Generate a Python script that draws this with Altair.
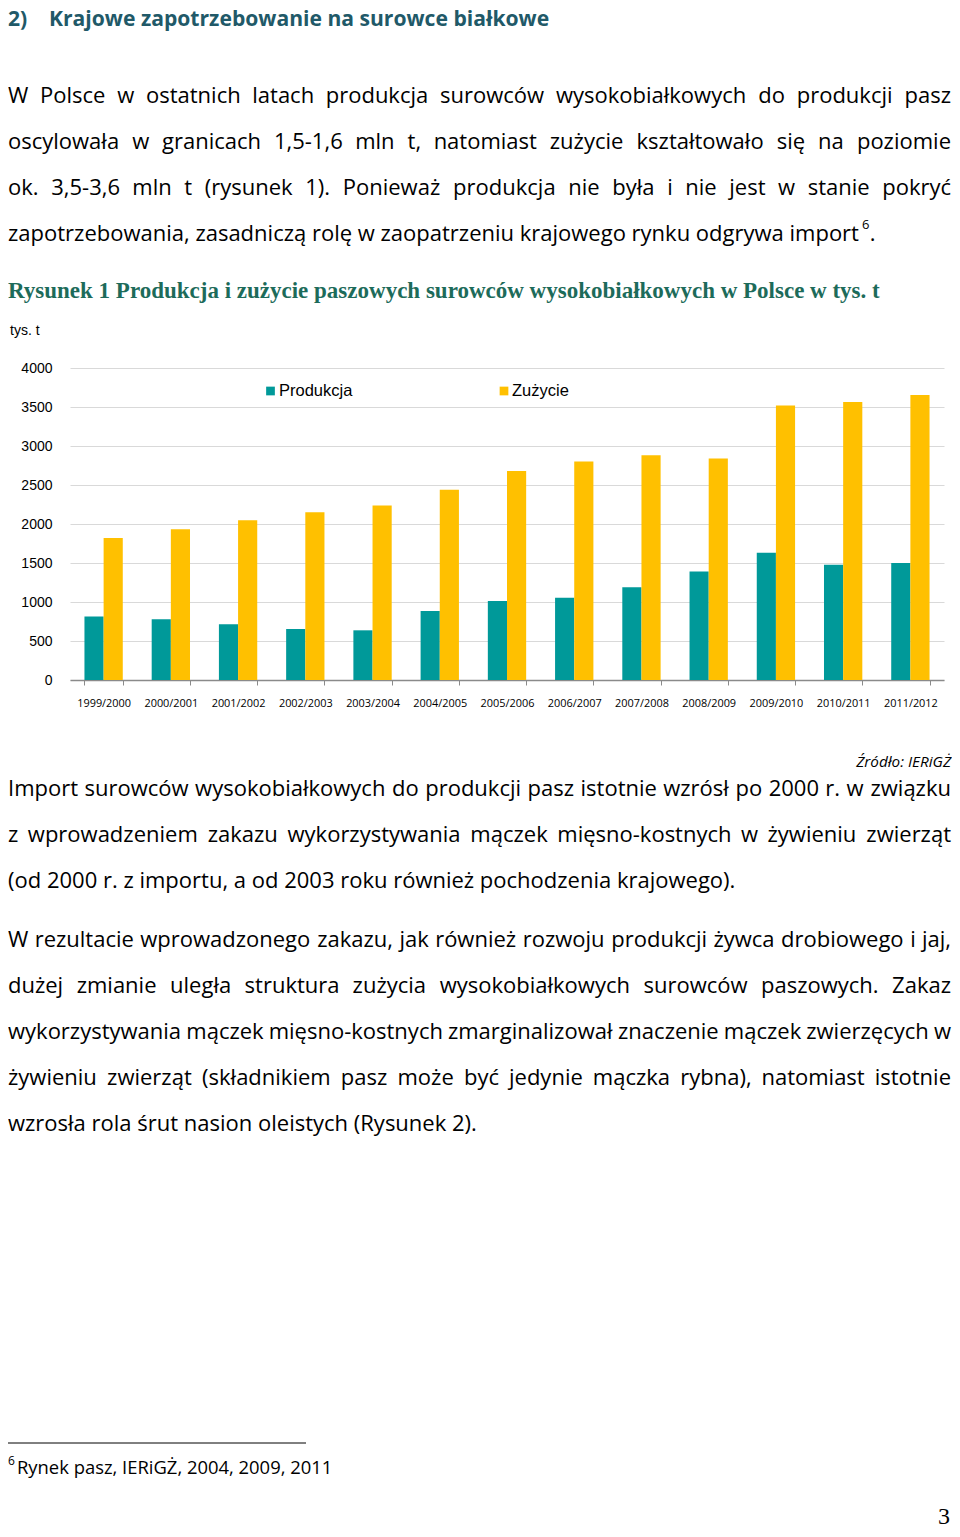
import altair as alt
import pandas as pd

# ---------------- data ----------------
SEASONS = ["1999/2000", "2000/2001", "2001/2002", "2002/2003", "2003/2004",
           "2004/2005", "2005/2006", "2006/2007", "2007/2008", "2008/2009",
           "2009/2010", "2010/2011", "2011/2012"]
PRODUKCJA = [813, 779, 714, 654, 637, 885, 1014, 1056, 1189, 1390, 1630, 1476, 1501]
ZUZYCIE = [1822, 1933, 2049, 2152, 2237, 2438, 2678, 2802, 2883, 2840, 3520, 3563, 3653]
SERIES = ["Produkcja", "Zużycie"]
SERIES_COLORS = ["#009999", "#FFC000"]
Y_TICKS = [0, 500, 1000, 1500, 2000, 2500, 3000, 3500, 4000]
Y_UNIT = "tys. t"

HEADING_NUM = "2)"
HEADING = "Krajowe zapotrzebowanie na surowce białkowe"
PARA1 = [
    "W Polsce w ostatnich latach produkcja surowców wysokobiałkowych do produkcji pasz",
    "oscylowała w granicach 1,5-1,6 mln t, natomiast zużycie kształtowało się na poziomie",
    "ok. 3,5-3,6 mln t (rysunek 1). Ponieważ produkcja nie była i nie jest w stanie pokryć",
    "zapotrzebowania, zasadniczą rolę w zaopatrzeniu krajowego rynku odgrywa import",
]
PARA1_SUP = "6"
PARA1_END = "."
CAPTION = "Rysunek 1 Produkcja i zużycie paszowych surowców wysokobiałkowych w Polsce w tys. t"
SOURCE = "Źródło: IERiGŻ"
PARA2 = [
    "Import surowców wysokobiałkowych do produkcji pasz istotnie wzrósł po 2000 r. w związku",
    "z wprowadzeniem zakazu wykorzystywania mączek mięsno-kostnych w żywieniu zwierząt",
    "(od 2000 r. z importu, a od 2003 roku również pochodzenia krajowego).",
]
PARA3 = [
    "W rezultacie wprowadzonego zakazu, jak również rozwoju produkcji żywca drobiowego i jaj,",
    "dużej zmianie uległa struktura zużycia wysokobiałkowych surowców paszowych. Zakaz",
    "wykorzystywania mączek mięsno-kostnych zmarginalizował znaczenie mączek zwierzęcych w",
    "żywieniu zwierząt (składnikiem pasz może być jedynie mączka rybna), natomiast istotnie",
    "wzrosła rola śrut nasion oleistych (Rysunek 2).",
]
FOOTNOTE_MARK = "6"
FOOTNOTE = "Rynek pasz, IERiGŻ, 2004, 2009, 2011"
PAGE_NUMBER = "3"

# ---------------- layout helpers ----------------
PLOT_X0, PLOT_Y0, PLOT_W, PLOT_H = 70, 368, 874, 312
PAGE_M = 8
SVG_W, SVG_H = 944, 1521
TEXT_L, TEXT_R = 8, 951
BODY_FONT = "Open Sans"
BODY_SIZE = 22
LINE_GAP = 46


def rx(x):
    return x - PLOT_X0


def ry(y):
    return y - PLOT_Y0


# approximate Open Sans advance widths (em)
_W = {' ': 0.26, 'a': 0.556, 'b': 0.613, 'c': 0.476, 'd': 0.613, 'e': 0.561, 'f': 0.339,
      'g': 0.548, 'h': 0.614, 'i': 0.253, 'j': 0.253, 'k': 0.525, 'l': 0.253, 'm': 0.93,
      'n': 0.614, 'o': 0.604, 'p': 0.613, 'q': 0.613, 'r': 0.408, 's': 0.477, 't': 0.353,
      'u': 0.614, 'v': 0.501, 'w': 0.778, 'x': 0.524, 'y': 0.502, 'z': 0.477,
      ',': 0.25, '.': 0.266, '-': 0.322, '(': 0.296, ')': 0.296, ':': 0.266, '/': 0.367,
      'A': 0.633, 'B': 0.648, 'C': 0.631, 'D': 0.729, 'E': 0.556, 'F': 0.516, 'G': 0.728,
      'H': 0.738, 'I': 0.279, 'J': 0.267, 'K': 0.614, 'L': 0.519, 'M': 0.903, 'N': 0.754,
      'O': 0.779, 'P': 0.602, 'R': 0.618, 'S': 0.549, 'T': 0.553, 'U': 0.729, 'W': 0.926,
      'Z': 0.556}
for _d in "0123456789":
    _W[_d] = 0.572
_ACC = str.maketrans("ąęóśćżźłńĄĘÓŚĆŻŹŁŃ", "aeosczzlnAEOSCZZLN")


def em_width(s):
    return sum(_W.get(ch, 0.55) for ch in s.translate(_ACC))


def fit(s, width, factor=1.0):
    return width / (em_width(s) * factor)


def justified(line, y, size=BODY_SIZE):
    words = line.split(" ")
    widths = [em_width(w) * size for w in words]
    gap = (TEXT_R - TEXT_L - sum(widths)) / (len(words) - 1)
    left, right = [], []
    x = TEXT_L
    for i, (w, wd) in enumerate(zip(words, widths)):
        if i == len(words) - 1:
            right.append(dict(text=w, x=rx(TEXT_R), y=ry(y)))
        else:
            left.append(dict(text=w, x=rx(x), y=ry(y)))
        x += wd + gap
    return left, right


body_left, body_right = [], []


def add_paragraph(lines, y0):
    for i, line in enumerate(lines):
        y = y0 + i * LINE_GAP
        if i < len(lines) - 1:
            l, r = justified(line, y)
            body_left.extend(l)
            body_right.extend(r)
        else:
            body_left.append(dict(text=line, x=rx(TEXT_L), y=ry(y)))


add_paragraph(PARA1, 96)
add_paragraph(PARA2, 789)
add_paragraph(PARA3, 940)

last_y = 96 + 3 * LINE_GAP
sup_x = TEXT_L + em_width(PARA1[-1]) * BODY_SIZE + 1
sup_rows = [dict(text=PARA1_SUP, x=rx(sup_x), y=ry(last_y - 9))]
body_left.append(dict(text=PARA1_END, x=rx(sup_x + em_width(PARA1_SUP) * 13 + 0.5), y=ry(last_y)))


def text_layer(rows, font, size, color="#000000", weight="normal", style="normal",
               align="left", baseline="middle"):
    return alt.Chart(pd.DataFrame(rows)).mark_text(
        font=font, fontSize=size, color=color, fontWeight=weight, fontStyle=style,
        align=align, baseline=baseline
    ).encode(
        x=alt.X("x:Q", scale=None, axis=None),
        y=alt.Y("y:Q", scale=None, axis=None),
        text="text:N",
    )


heading_size = fit(HEADING, 499, 1.07)
HEADING_TOP = PAGE_M + 1
layers_text = [
    text_layer(body_left, BODY_FONT, BODY_SIZE),
    text_layer(body_right, BODY_FONT, BODY_SIZE, align="right"),
    text_layer(sup_rows, BODY_FONT, 13),
    text_layer([dict(text=HEADING_NUM, x=rx(8), y=ry(HEADING_TOP)),
                dict(text=HEADING, x=rx(49), y=ry(HEADING_TOP))],
               BODY_FONT, heading_size, color="#215968", weight="bold", baseline="top"),
    text_layer([dict(text=CAPTION, x=rx(8), y=ry(291))],
               "Liberation Serif", 23, color="#1D6B5A", weight="bold"),
    text_layer([dict(text=Y_UNIT, x=rx(10), y=ry(331))], "Liberation Sans", 14),
    text_layer([dict(text=SERIES[0], x=rx(279), y=ry(391)),
                dict(text=SERIES[1], x=rx(512), y=ry(391))], "Liberation Sans", 16.5),
    text_layer([dict(text=SOURCE, x=rx(951), y=ry(762))], BODY_FONT,
               fit(SOURCE, 97, 0.97), style="italic", align="right"),
    text_layer([dict(text=FOOTNOTE_MARK, x=rx(8), y=ry(1461))], BODY_FONT, 12),
    text_layer([dict(text=FOOTNOTE, x=rx(17), y=ry(1468))], BODY_FONT, fit(FOOTNOTE, 315)),
    text_layer([dict(text=PAGE_NUMBER, x=rx(950), y=ry(1517))], "Liberation Serif", 24,
               align="right"),
]

footnote_rule = alt.Chart(pd.DataFrame([dict(x=rx(8), x2=rx(306), y=ry(1443))])).mark_rule(
    color="#000000", strokeWidth=1
).encode(
    x=alt.X("x:Q", scale=None, axis=None),
    x2="x2:Q",
    y=alt.Y("y:Q", scale=None, axis=None),
)

color_scale = alt.Scale(domain=SERIES, range=SERIES_COLORS)

legend_marks = alt.Chart(pd.DataFrame([
    dict(series=SERIES[0], x=rx(270.5), y=ry(391)),
    dict(series=SERIES[1], x=rx(504), y=ry(391)),
])).mark_square(size=76, opacity=1).encode(
    x=alt.X("x:Q", scale=None, axis=None),
    y=alt.Y("y:Q", scale=None, axis=None),
    color=alt.Color("series:N", scale=color_scale, legend=None),
)

bar_df = pd.DataFrame({
    "season": SEASONS * 2,
    "series": [SERIES[0]] * len(SEASONS) + [SERIES[1]] * len(SEASONS),
    "value": PRODUKCJA + ZUZYCIE,
})

bars = alt.Chart(bar_df).mark_bar().encode(
    x=alt.X("season:N", sort=SEASONS,
            scale=alt.Scale(paddingInner=0.43, paddingOuter=0.215),
            axis=alt.Axis(title=None, labelAngle=0, labelFont=BODY_FONT, labelFontSize=10.9,
                          labelColor="#000000", domainColor="#8a8a8a", domainWidth=1.5,
                          tickColor="#8a8a8a", tickSize=5, tickBand="extent",
                          labelPadding=12, grid=False)),
    xOffset=alt.XOffset("series:N", sort=SERIES),
    y=alt.Y("value:Q", scale=alt.Scale(domain=[0, 4000], nice=False),
            axis=alt.Axis(title=None, values=Y_TICKS, format="d", labelFont="Liberation Sans",
                          labelFontSize=14, labelColor="#000000", domain=False, ticks=False,
                          labelPadding=18, gridColor="#d9d9d9", gridWidth=1)),
    color=alt.Color("series:N", scale=color_scale, legend=None),
)

chart = alt.layer(bars, legend_marks, footnote_rule, *layers_text).resolve_scale(
    x="independent", y="independent"
).properties(
    width=PLOT_W,
    height=PLOT_H,
    autosize=alt.AutoSizeParams(type="none"),
    padding={"left": PLOT_X0 - PAGE_M, "top": PLOT_Y0 - PAGE_M,
             "right": SVG_W - (PLOT_X0 - PAGE_M) - PLOT_W,
             "bottom": SVG_H - (PLOT_Y0 - PAGE_M) - PLOT_H},
    background="white",
).configure_view(stroke=None)

chart.save("out.html", embed_options={"renderer": "svg", "actions": False})
